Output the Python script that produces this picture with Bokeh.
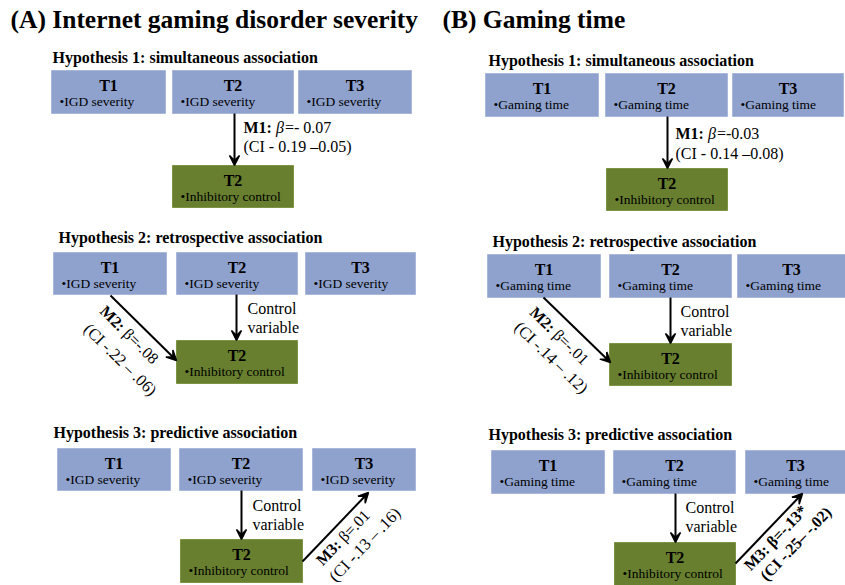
import math
from bokeh.plotting import figure
from bokeh.models import Range1d, Arrow, VeeHead
from bokeh.core.properties import value
from bokeh.embed import file_html
from bokeh.resources import INLINE

# ---------------- data (texts and values) ----------------
panel_titles = ["(A) Internet gaming disorder severity", "(B) Gaming time"]
exposure_names = ["IGD severity", "Gaming time"]
outcome_name = "Inhibitory control"
time_points = ["T1", "T2", "T3"]
hypotheses = ["Hypothesis 1: simultaneous association",
              "Hypothesis 2: retrospective association",
              "Hypothesis 3: predictive association"]
model_names = ["M1", "M2", "M3"]
beta_labels = [["=- 0.07", "=-.08", "=.01"],
               ["=-0.03", "=-.01", "=-.13*"]]
ci_labels = [["(CI - 0.19 \u20130.05)", "(CI -.22 \u2013 .06)", "(CI -.13 \u2013 .16)"],
             ["(CI - 0.14 \u20130.08)", "(CI -.14 \u2013 .12)", "(CI -.25\u2013 -.02)"]]
significant = [[False, False, False], [False, False, True]]
control_label = ["Control", "variable"]

# ---------------- layout (pixel positions in the picture) ----------------
W, H = 845, 585
p = figure(width=W, height=H, output_backend="svg", toolbar_location=None,
           x_range=Range1d(0, W), y_range=Range1d(H, 0),
           min_border=0, outline_line_color=None)
p.axis.visible = False
p.grid.visible = False

SERIF = value("Liberation Serif")
BLUE, BLUE_EDGE = "#8FA2CE", "#A8B7DA"
GREEN, GREEN_EDGE = "#677F2E", "#7E9445"

layout = [
    dict(title=(10, 19),
         hyp=[(52, 57), (58, 237), (53, 432)],
         blue=[[(51, 165), (172, 293), (298, 411)],
               [(53, 166), (176, 297), (305, 415)],
               [(57, 170), (179, 302), (312, 415)]],
         blue_y=[(70, 113), (252, 294), (448, 490)],
         green=[(172, 293, 165, 207), (176, 297, 340, 383), (180, 302, 539, 582)],
         vert=[(234, 113, 165), (236, 294, 340), (241, 490, 539)],
         m1=(243, 127, 146),
         ctrl=[None, (247, 308, 327), (252, 505, 524)],
         diag2=(110, 295, 176, 360), m2=[(131, 332), (122, 357)],
         diag3=(302, 561, 368, 492), m3=[(340, 535), (362, 542)]),
    dict(title=(442, 19),
         hyp=[(488, 60), (492, 241), (488, 434)],
         blue=[[(485, 598), (605, 727), (732, 843)],
               [(487, 600), (609, 731), (737, 845)],
               [(491, 604), (613, 735), (745, 845)]],
         blue_y=[(73, 116), (254, 297), (450, 493)],
         green=[(606, 727, 168, 210), (609, 731, 343, 385), (614, 735, 542, 585)],
         vert=[(667, 116, 168), (670, 297, 343), (675, 493, 542)],
         m1=(675, 133, 153),
         ctrl=[None, (680, 311, 330), (685, 507, 526)],
         diag2=(543, 297, 610, 362), m2=[(561, 333), (553, 355)],
         diag3=(735, 563, 802, 493), m3=[(773, 535), (793, 541)]),
]

# approximate Times-metric advance widths (em units)
REG = {" ": .25, "(": .333, ")": .333, "C": .667, "I": .333, "-": .333, ".": .25,
       "\u2013": .5, "=": .564, "*": .5, "\u03b2": .5, "M": .889, ":": .278}
BLD = {" ": .25, "(": .333, ")": .333, "C": .722, "I": .389, "-": .333, ".": .25,
       "\u2013": .5, "=": .570, "*": .5, "\u03b2": .55, "M": .944, ":": .333}


def text_width(s, size, bold=False):
    tbl = BLD if bold else REG
    return sum(tbl.get(c, .5) for c in s) * size


def box(l, r, t, b, fill, edge, head, sub):
    p.quad(left=[l], right=[r], top=[t], bottom=[b], fill_color=fill,
           line_color=edge, line_width=1)
    p.text(x=[(l + r) / 2], y=[t + 14.5], text=[head], text_font=SERIF,
           text_font_style="bold", text_font_size="16px", text_align="center",
           text_baseline="middle", text_color="black")
    p.text(x=[l + 8], y=[t + 30.5], text=["\u2022" + sub], text_font=SERIF,
           text_font_size="13.5px", text_align="left", text_baseline="middle",
           text_color="black")


def arrow(x0, y0, x1, y1):
    p.add_layout(Arrow(end=VeeHead(size=10, line_width=1.5, line_color="black",
                                   fill_color="black"),
                       x_start=x0, y_start=y0, x_end=x1, y_end=y1,
                       line_width=2, line_color="black"))


def rotated_label(cx, cy, ang_screen, parts, size, gap=4.0, shift=3.0):
    """parts: list of (text, bold). ang_screen: direction in screen coords (y down)."""
    widths = [text_width(t, size, b) for t, b in parts]
    total = sum(widths) + gap * (len(parts) - 1)
    dx, dy = math.cos(ang_screen), math.sin(ang_screen)
    nx, ny = -dy, dx  # normal pointing away from the line (below)
    cx, cy = cx + nx * shift, cy + ny * shift
    sx, sy = cx - dx * total / 2, cy - dy * total / 2
    acc = 0.0
    for (t, b), w in zip(parts, widths):
        p.text(x=[sx + dx * acc], y=[sy + dy * acc], text=[t], angle=-ang_screen,
               text_font=SERIF, text_font_size=f"{size}px",
               text_font_style="bold" if b else "normal",
               text_align="left", text_baseline="middle")
        acc += w + gap


for k, L in enumerate(layout):
    p.text(x=[L["title"][0]], y=[L["title"][1]], text=[panel_titles[k]],
           text_font=SERIF, text_font_style="bold", text_font_size="25.5px",
           text_baseline="middle", text_align="left")
    for h in range(3):
        hx, hy = L["hyp"][h]
        p.text(x=[hx], y=[hy], text=[hypotheses[h]], text_font=SERIF,
               text_font_style="bold", text_font_size="16px",
               text_baseline="middle", text_align="left")
        t, b = L["blue_y"][h]
        for i, (l, r) in enumerate(L["blue"][h]):
            box(l, r, t, b, BLUE, BLUE_EDGE, time_points[i], exposure_names[k])
        gl, gr, gt, gb = L["green"][h]
        box(gl, gr, gt, gb, GREEN, GREEN_EDGE, "T2", outcome_name)
        vx, vy0, vy1 = L["vert"][h]
        arrow(vx, vy0, vx, vy1)
        if L["ctrl"][h] is not None:
            cx, cy1, cy2 = L["ctrl"][h]
            p.text(x=[cx, cx], y=[cy1, cy2], text=control_label, text_font=SERIF,
                   text_font_size="16px", text_baseline="middle", text_align="left")

    # M1 label
    mx, my1, my2 = L["m1"]
    w1 = text_width(model_names[0] + ":", 16, True)
    p.text(x=[mx], y=[my1], text=[model_names[0] + ":"], text_font=SERIF,
           text_font_style="bold", text_font_size="16px", text_baseline="middle")
    p.text(x=[mx + w1 + 4], y=[my1], text=["\u03b2"], text_font=SERIF,
           text_font_style="italic", text_font_size="16px", text_baseline="middle")
    p.text(x=[mx + w1 + 13], y=[my1], text=[beta_labels[k][0]], text_font=SERIF,
           text_font_size="16px", text_baseline="middle")
    p.text(x=[mx], y=[my2], text=[ci_labels[k][0]], text_font=SERIF,
           text_font_size="16px", text_baseline="middle")

    # M2 and M3 diagonals
    for j, key, mkey in ((1, "diag2", "m2"), (2, "diag3", "m3")):
        x0, y0, x1, y1 = L[key]
        arrow(x0, y0, x1, y1)
        ang = math.atan2(y1 - y0, x1 - x0)
        if ang > math.pi / 2 or ang < -math.pi / 2:
            ang += math.pi
        sig = significant[k][j]
        (ax, ay), (bx, by) = L[mkey]
        rotated_label(ax, ay, ang, [(model_names[j] + ":", True),
                                    ("\u03b2" + beta_labels[k][j], sig)], 16)
        rotated_label(bx, by, ang, [(ci_labels[k][j], sig)], 16 if sig else 16.5)

open("out.html", "w").write(file_html(p, INLINE))
